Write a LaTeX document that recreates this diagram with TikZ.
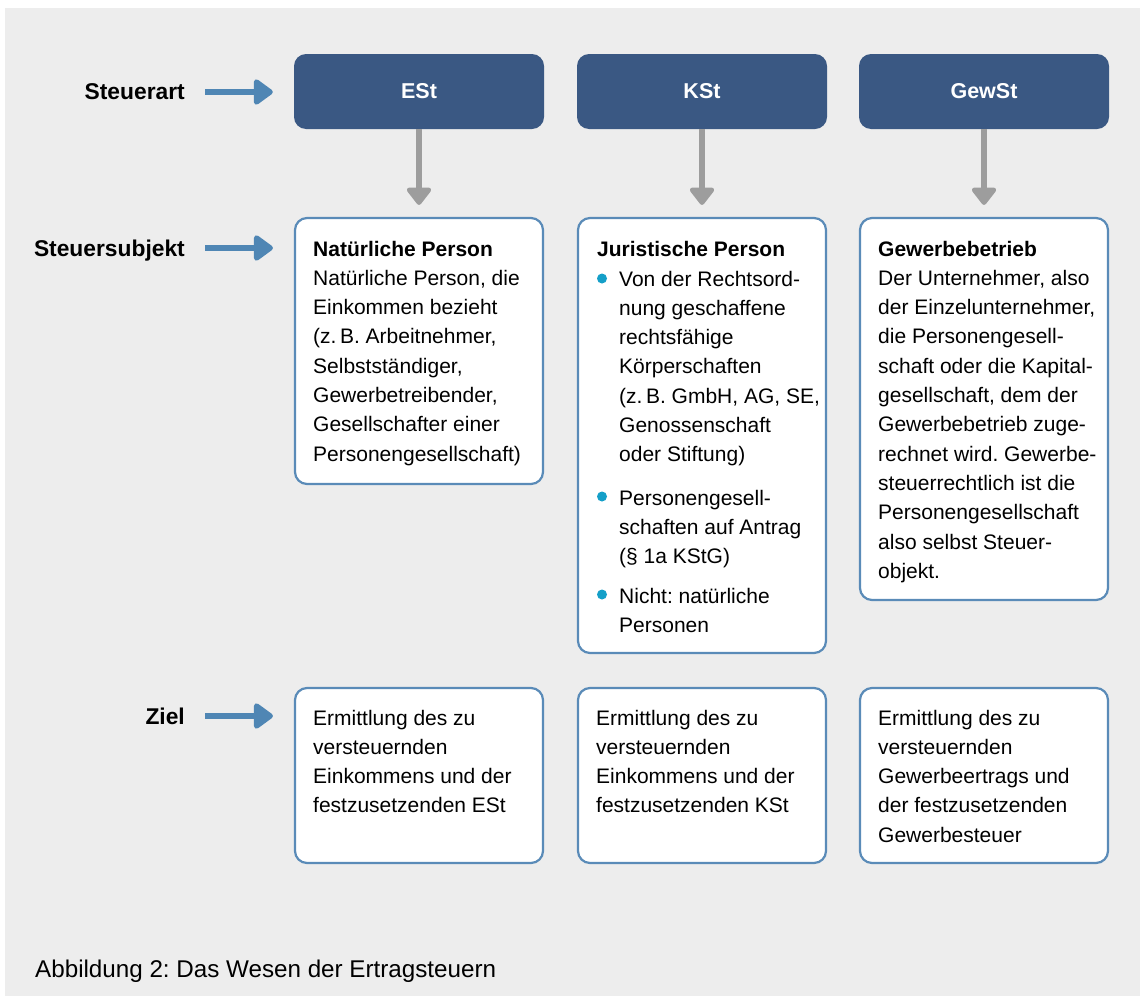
\documentclass[tikz,border=0pt]{standalone}
\usepackage{fontspec}
\setmainfont{Liberation Sans}
\usetikzlibrary{arrows.meta}
\frenchspacing
\definecolor{bg}{HTML}{EDEDED}
\definecolor{navy}{HTML}{3A5883}
\definecolor{framec}{HTML}{5A8BB8}
\definecolor{barrowc}{HTML}{4F86B4}
\definecolor{garrowc}{HTML}{9D9D9D}
\definecolor{bulc}{HTML}{149FC8}
\newcommand\boxtxt[2]{\parbox[t]{#1}{\fontsize{21}{29.3}\selectfont\raggedright\frenchspacing #2}}
\tikzset{
  navybox/.style={fill=navy, rounded corners=12pt, minimum width=250pt, minimum height=75pt, inner sep=0pt,
    text=white, font=\fontsize{21.5}{26}\selectfont\bfseries},
  whitebox/.style={fill=white, draw=framec, line width=2.2pt, rounded corners=12pt, minimum width=248pt, inner sep=0pt},
  txt/.style={anchor=base west, inner sep=0pt},
  lab/.style={anchor=base east, inner sep=0pt, font=\fontsize{22.8}{27}\selectfont\bfseries},
  barrow/.style={draw=barrowc, line width=5.5pt, -{Triangle[width=29pt,length=21pt,round]}, shorten >=21pt},
  garrow/.style={draw=garrowc, line width=6pt, -{Triangle[width=28pt,length=19pt,round]}, shorten >=12pt},
}
\begin{document}
\begin{tikzpicture}[x=1pt,y=-1pt]
\useasboundingbox (0,0) rectangle (1140,996);
\fill[bg] (5,8) rectangle (1140,996);

% top boxes
\node[navybox] (est) at (419,91.5) {ESt};
\node[navybox] (kst) at (702,91.5) {KSt};
\node[navybox] (gew) at (984,91.5) {GewSt};

% subject boxes
\node[whitebox, minimum height=266pt] (sub1) at (419,351) {};
\node[whitebox, minimum height=435pt] (sub2) at (702,435.5) {};
\node[whitebox, minimum height=382pt] (sub3) at (984,409) {};

% goal boxes
\node[whitebox, minimum height=175pt] (z1) at (419,775.5) {};
\node[whitebox, minimum height=175pt] (z2) at (702,775.5) {};
\node[whitebox, minimum height=175pt] (z3) at (984,775.5) {};

% grey arrows
\draw[garrow] (est.south) -- (sub1.north);
\draw[garrow] (kst.south) -- (sub2.north);
\draw[garrow] (gew.south) -- (sub3.north);

% labels and blue arrows
\node[lab] (l1) at (185,99) {Steuerart};
\node[lab] (l2) at (185,256) {Steuersubjekt};
\node[lab] (l3) at (185,724) {Ziel};
\coordinate (a1) at (205,92);
\coordinate (a2) at (205,248);
\coordinate (a3) at (205,716);
\draw[barrow] (a1) -- (a1 -| est.west);
\draw[barrow] (a2) -- (a2 -| sub1.west);
\draw[barrow] (a3) -- (a3 -| z1.west);

% subject texts
\node[txt] (t1) at (313,256) {\boxtxt{228pt}{\textbf{Natürliche Person}\\Natürliche Person, die\\Einkommen bezieht\\(z.\,B. Arbeitnehmer,\\Selbstständiger,\\Gewerbetreibender,\\Gesellschafter einer\\Personengesellschaft)}};

\node[txt] (t2h) at (597,256) {\boxtxt{225pt}{\textbf{Juristische Person}}};
\fill[bulc] (602,278.5) circle (5pt);
\node[txt] (t2a) at (619,286) {\boxtxt{205pt}{Von der Rechtsord-\\nung geschaffene\\rechtsfähige\\Körperschaften\\(z.\,B. GmbH, AG, SE,\\Genossenschaft\\oder Stiftung)}};
\fill[bulc] (602,496.5) circle (5pt);
\node[txt] (t2b) at (619,505) {\boxtxt{205pt}{Personengesell-\\schaften auf Antrag\\(§ 1a KStG)}};
\fill[bulc] (602,594.5) circle (5pt);
\node[txt] (t2c) at (619,603) {\boxtxt{205pt}{Nicht: natürliche\\Personen}};

\node[txt] (t3) at (878,256) {\boxtxt{228pt}{\textbf{Gewerbebetrieb}\\Der Unternehmer, also\\der Einzelunternehmer,\\die Personengesell-\\schaft oder die Kapital-\\gesellschaft, dem der\\Gewerbebetrieb zuge-\\rechnet wird. Gewerbe-\\steuerrechtlich ist die\\Personengesellschaft\\also selbst Steuer-\\objekt.}};

% goal texts
\node[txt] (g1) at (313,725) {\boxtxt{228pt}{Ermittlung des zu\\versteuernden\\Einkommens und der\\festzusetzenden ESt}};
\node[txt] (g2) at (596,725) {\boxtxt{228pt}{Ermittlung des zu\\versteuernden\\Einkommens und der\\festzusetzenden KSt}};
\node[txt] (g3) at (878,725) {\boxtxt{228pt}{Ermittlung des zu\\versteuernden\\Gewerbeertrags und\\der festzusetzenden\\Gewerbesteuer}};

% caption
\node[anchor=base west, inner sep=0pt, font=\fontsize{24.2}{29}\selectfont] (cap) at (35,977) {Abbildung 2: Das Wesen der Ertragsteuern};
\end{tikzpicture}
\end{document}
